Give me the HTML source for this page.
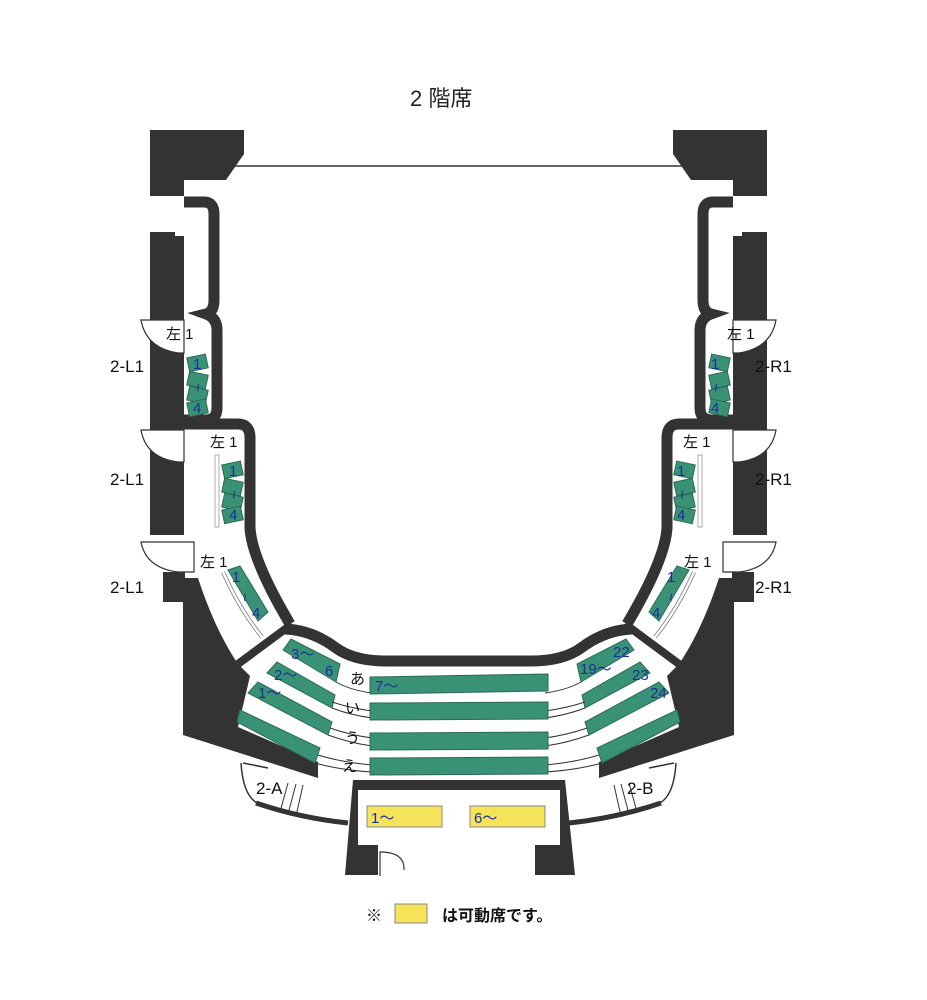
<!DOCTYPE html>
<html><head><meta charset="utf-8"><style>
html,body{margin:0;padding:0;background:#fff;}
svg{display:block;}
text{font-family:"Liberation Sans","Noto Sans CJK JP",sans-serif;}
.n{fill:#1a2f9e;font-size:15px;font-family:"Liberation Sans",sans-serif;}
.g{fill:#3a9276;stroke:#2b6a56;stroke-width:1;}
</style></head><body>
<svg width="927" height="1000" viewBox="0 0 927 1000" xmlns="http://www.w3.org/2000/svg">
<defs>
<g id="half">
  <polygon points="150,130 244,130 244,154 226,180 184,180 184,196 150,196" fill="#333"/>
  <polygon points="150,232 175,232 175,236 184,236 184,535 150,535" fill="#333"/>
  <path d="M184,202 H204 Q214,202 214,214 V300 Q214,312 206,314 Q217,318 217,330 V408 Q217,420 205,420 H184" fill="none" stroke="#333" stroke-width="11"/>
  <path d="M180,424 H238 Q250,424 250,438 V528 Q252,560 290,624" fill="none" stroke="#333" stroke-width="11"/>
  <path d="M141,320 H184 V353 H178 Q146,348 141,320 Z" fill="#fff" stroke="#333" stroke-width="1.2"/>
  <path d="M141,430 H184 V462 H178 Q146,458 141,430 Z" fill="#fff" stroke="#333" stroke-width="1.2"/>
  <path d="M141,542 H194 V572 H178 Q146,568 141,542 Z" fill="#fff" stroke="#333" stroke-width="1.2"/>
  <rect x="163" y="572" width="22" height="30" fill="#333"/>
  <path d="M183,590 L183,735 L318,778 L318,762 L238,727 L250,676 L238,664 Q215,630 198,578 L183,578 Z" fill="#333"/>
  <line x1="238" y1="664" x2="292" y2="624" stroke="#333" stroke-width="8"/>
  <path d="M285,629 Q312,630 336,648 Q354,661 386,661 H462" fill="none" stroke="#333" stroke-width="11"/>
  <path d="M256,803 Q300,818 348,823" fill="none" stroke="#333" stroke-width="5"/>
  <path d="M241,763 Q243,795 257,803" fill="none" stroke="#333" stroke-width="1.5"/>
  <line x1="243" y1="763" x2="268" y2="768" stroke="#333" stroke-width="1.5"/>
  <line x1="288" y1="783" x2="280" y2="812" stroke="#333" stroke-width="1"/>
  <line x1="296" y1="784" x2="288" y2="814" stroke="#333" stroke-width="1"/>
  <line x1="303" y1="785" x2="296" y2="816" stroke="#333" stroke-width="1"/>
  <rect x="215" y="455" width="4" height="72" fill="#fff" stroke="#999" stroke-width="0.8"/>
  <path d="M223,572 Q240,610 262,637" fill="none" stroke="#777" stroke-width="4"/>
  <path d="M223,572 Q240,610 262,637" fill="none" stroke="#fff" stroke-width="2.5"/>
  <g class="g">
  <rect x="188" y="356" width="19" height="14" transform="rotate(-12 197 363)"/>
  <rect x="188" y="373" width="19" height="14" transform="rotate(12 197 380)"/>
  <rect x="188" y="388" width="19" height="14" transform="rotate(12 197 395)"/>
  <rect x="188" y="401" width="19" height="14" transform="rotate(-12 197 408)"/>
  <rect x="223" y="463" width="19" height="14" transform="rotate(-12 232 470)"/>
  <rect x="223" y="480" width="19" height="14" transform="rotate(12 232 487)"/>
  <rect x="223" y="495" width="19" height="14" transform="rotate(12 232 502)"/>
  <rect x="223" y="508" width="19" height="14" transform="rotate(-12 232 515)"/>
  <polygon points="228,570 240,566 268,612 258,621"/>
  <polygon points="283,650 291,639 340,664 336,682"/>
  <polygon points="267,673 277,662 335,695 332,708"/>
  <polygon points="248,693 258,682 332,722 328,735"/>
  <polygon points="237,722 240,710 320,748 315,763"/>
  </g>
  <g fill="none" stroke="#333" stroke-width="1">
  <path d="M336,682 Q350,690 372,693"/>
  <path d="M332,708 Q350,715 372,718"/>
  <path d="M332,702 Q350,708 372,711"/>
  <path d="M328,735 Q350,743 372,746"/>
  <path d="M330,728 Q350,735 372,738"/>
  <path d="M315,763 Q340,770 372,772"/>
  <path d="M318,755 Q340,762 372,765"/>
  </g>
</g>
</defs>
<use href="#half"/>
<use href="#half" transform="translate(917,0) scale(-1,1)"/>
<line x1="228" y1="166" x2="690" y2="166" stroke="#333" stroke-width="1.5"/>
<g class="g">
<polygon points="370,677 548,674 548,691 370,694"/>
<polygon points="370,703 548,702 548,719 370,720"/>
<polygon points="370,733 548,732 548,749 370,750"/>
<polygon points="370,758 548,757 548,774 370,775"/>
</g>
<polygon points="353,780 565,780 575,875 345,875" fill="#333"/>
<rect x="358" y="790" width="202" height="55" fill="#fff"/>
<rect x="378" y="845" width="157" height="31" fill="#fff"/>
<path d="M380,876 V852 Q405,852 404,870" fill="none" stroke="#333" stroke-width="1.2"/>
<rect x="367" y="806" width="75" height="21" fill="#f5e35a" stroke="#888" stroke-width="1"/>
<rect x="470" y="806" width="75" height="21" fill="#f5e35a" stroke="#888" stroke-width="1"/>
<text x="371" y="823" class="n">1～</text>
<text x="474" y="823" class="n">6～</text>
<text x="410" y="106" font-size="22" fill="#222">2 階席</text>
<g font-size="17" fill="#111">
<text x="110" y="372">2-L1</text><text x="110" y="485">2-L1</text><text x="110" y="593">2-L1</text>
<text x="755" y="372">2-R1</text><text x="755" y="485">2-R1</text><text x="755" y="593">2-R1</text>
<text x="256" y="794">2-A</text><text x="627" y="794">2-B</text>
</g>
<g font-size="15" fill="#111">
<text x="166" y="339">左 1</text><text x="210" y="447">左 1</text><text x="200" y="567">左 1</text>
<text x="727" y="339">左 1</text><text x="683" y="447">左 1</text><text x="684" y="567">左 1</text>
<text x="350" y="684">あ</text><text x="345" y="713">い</text><text x="345" y="743">う</text><text x="342" y="771">え</text>
</g>
<g class="n">
<text x="193" y="369">1</text><text x="193" y="413">4</text>
<text x="229" y="476">1</text><text x="229" y="520">4</text>
<text x="232" y="582">1</text><text x="252" y="618">4</text>
<text x="711" y="369">1</text><text x="711" y="413">4</text>
<text x="677" y="476">1</text><text x="677" y="520">4</text>
<text x="667" y="582">1</text><text x="652" y="618">4</text>
<text transform="translate(193,383) rotate(90)">~</text>
<text transform="translate(229,490) rotate(90)">~</text>
<text transform="translate(240,593) rotate(90)">~</text>
<text transform="translate(711,383) rotate(90)">~</text>
<text transform="translate(677,490) rotate(90)">~</text>
<text transform="translate(666,593) rotate(90)">~</text>
<text x="291" y="659">3～</text><text x="325" y="676">6</text>
<text x="274" y="680">2～</text><text x="258" y="698">1～</text>
<text x="375" y="691">7～</text>
<text x="580" y="674">19～</text><text x="613" y="657">22</text>
<text x="632" y="680">23</text><text x="650" y="698">24</text>
</g>
<text x="366" y="921" font-size="16" fill="#111">※</text>
<rect x="395" y="904" width="32" height="19" fill="#f5e35a" stroke="#888"/>
<text x="442" y="921" font-size="16" font-weight="bold" fill="#111">は可動席です。</text>
</svg>
</body></html>
